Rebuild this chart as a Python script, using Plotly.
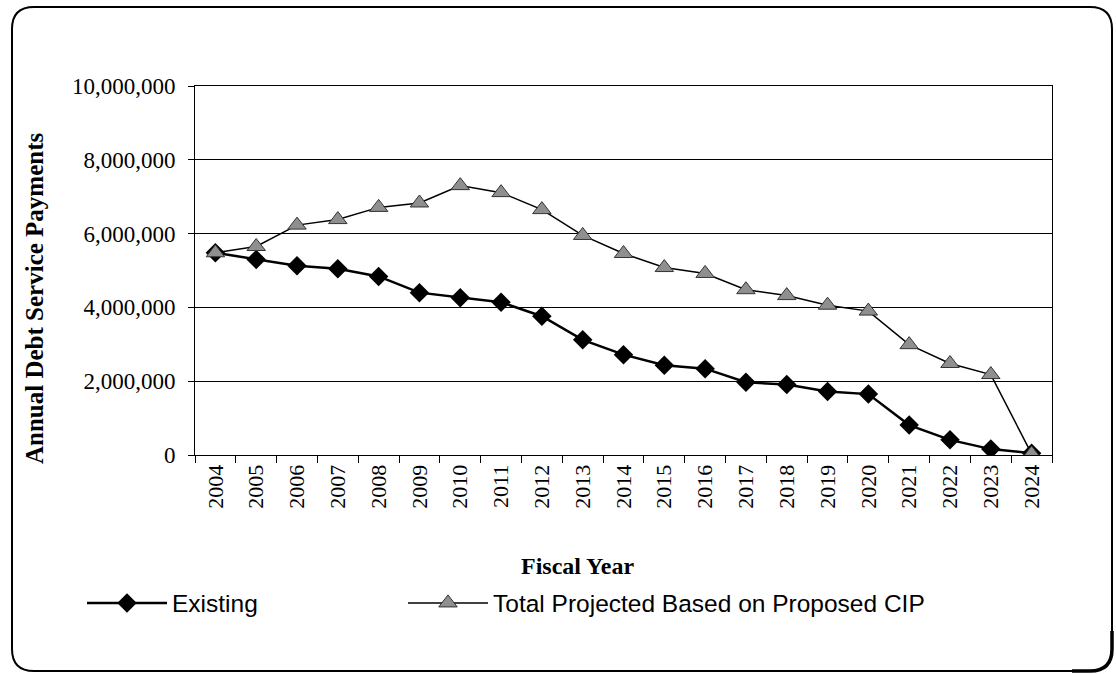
import plotly.graph_objects as go

# Fiscal years and annual debt service payments (USD)
years = [str(y) for y in range(2004, 2025)]
existing = [5480000, 5300000, 5130000, 5050000, 4840000, 4400000, 4260000,
            4140000, 3760000, 3120000, 2720000, 2430000, 2340000, 1970000,
            1910000, 1720000, 1650000, 810000, 410000, 160000, 50000]
total_projected = [5480000, 5650000, 6230000, 6380000, 6710000, 6830000, 7300000,
                   7110000, 6650000, 5950000, 5460000, 5080000, 4920000, 4480000,
                   4320000, 4060000, 3900000, 2990000, 2480000, 2180000, 30000]
y_ticks = [0, 2000000, 4000000, 6000000, 8000000, 10000000]
y_tick_text = ["0", "2,000,000", "4,000,000", "6,000,000", "8,000,000", "10,000,000"]

W, H = 1116, 674
ML, MR, MT, MB = 195, 64, 86, 219
PW, PH = W - ML - MR, H - MT - MB


def px(x):
    return (x - ML) / PW


def py(y):
    return (H - MB - y) / PH


SERIF = "Liberation Serif, Times New Roman, serif"
SANS = "Liberation Sans, Arial, sans-serif"

fig = go.Figure()
fig.add_trace(go.Scatter(
    x=years, y=existing, name="Existing", mode="lines+markers",
    line=dict(color="black", width=2.5),
    marker=dict(symbol="diamond", size=15, color="black"),
    legend="legend",
))
fig.add_trace(go.Scatter(
    x=years, y=total_projected, name="Total Projected Based on Proposed CIP",
    mode="lines+markers",
    line=dict(color="black", width=1.5),
    marker=dict(symbol="triangle-up", size=16, color="#8f8f8f",
                line=dict(color="#333333", width=1)),
    legend="legend2",
))

# rounded outer frame
x0, x1, y0, y1, r = 12, 1112, 7, 671, 22
frame = (f"M{px(x0 + r)},{py(y0)} L{px(x1 - r)},{py(y0)} "
         f"Q{px(x1)},{py(y0)} {px(x1)},{py(y0 + r)} "
         f"L{px(x1)},{py(y1 - r)} Q{px(x1)},{py(y1)} {px(x1 - r)},{py(y1)} "
         f"L{px(x0 + r)},{py(y1)} Q{px(x0)},{py(y1)} {px(x0)},{py(y1 - r)} "
         f"L{px(x0)},{py(y0 + r)} Q{px(x0)},{py(y0)} {px(x0 + r)},{py(y0)} Z")
corner = (f"M{px(x1)},{py(y1 - 40)} L{px(x1)},{py(y1 - r)} "
          f"Q{px(x1)},{py(y1)} {px(x1 - r)},{py(y1)} L{px(x1 - 40)},{py(y1)}")
shapes = [
    dict(type="path", xref="paper", yref="paper", path=frame,
         line=dict(color="black", width=2), layer="below"),
    dict(type="path", xref="paper", yref="paper", path=corner,
         line=dict(color="black", width=3.5), layer="below"),
]

annotations = [
    dict(text="<b>Fiscal Year</b>", xref="paper", yref="paper",
         x=px(577), y=py(566), xanchor="center", yanchor="middle",
         showarrow=False, font=dict(family=SERIF, size=24, color="black")),
    dict(text="<b>Annual Debt Service Payments</b>", xref="paper", yref="paper",
         x=px(34), y=py(299), xanchor="center", yanchor="middle", textangle=-90,
         showarrow=False, font=dict(family=SERIF, size=25, color="black")),
]

legend_common = dict(orientation="h", xanchor="left", yanchor="middle",
                     itemwidth=80,
                     font=dict(family=SANS, size=24.5, color="black"),
                     bgcolor="rgba(0,0,0,0)")

fig.update_layout(
    width=W, height=H,
    margin=dict(l=ML, r=MR, t=MT, b=MB, autoexpand=False),
    paper_bgcolor="white", plot_bgcolor="white",
    shapes=shapes, annotations=annotations,
    showlegend=True,
    legend=dict(x=px(82), y=py(603), **legend_common),
    legend2=dict(x=px(403), y=py(603), **legend_common),
    xaxis=dict(
        type="category", range=[-0.5, 20.5],
        showline=True, linecolor="black", linewidth=1, mirror=True,
        ticks="outside", ticklen=7, tickcolor="black", tickson="boundaries",
        tickangle=-90, showgrid=False,
        tickfont=dict(family=SERIF, size=22, color="black"),
    ),
    yaxis=dict(
        range=[0, 10000000], tickvals=y_ticks, ticktext=y_tick_text,
        showline=True, linecolor="black", linewidth=1, mirror=True,
        ticks="outside", ticklen=6, tickcolor="black", ticklabelstandoff=8,
        showgrid=True, gridcolor="black", gridwidth=1, zeroline=False,
        tickfont=dict(family=SERIF, size=23, color="black"),
    ),
)

fig.write_html("out.html")
